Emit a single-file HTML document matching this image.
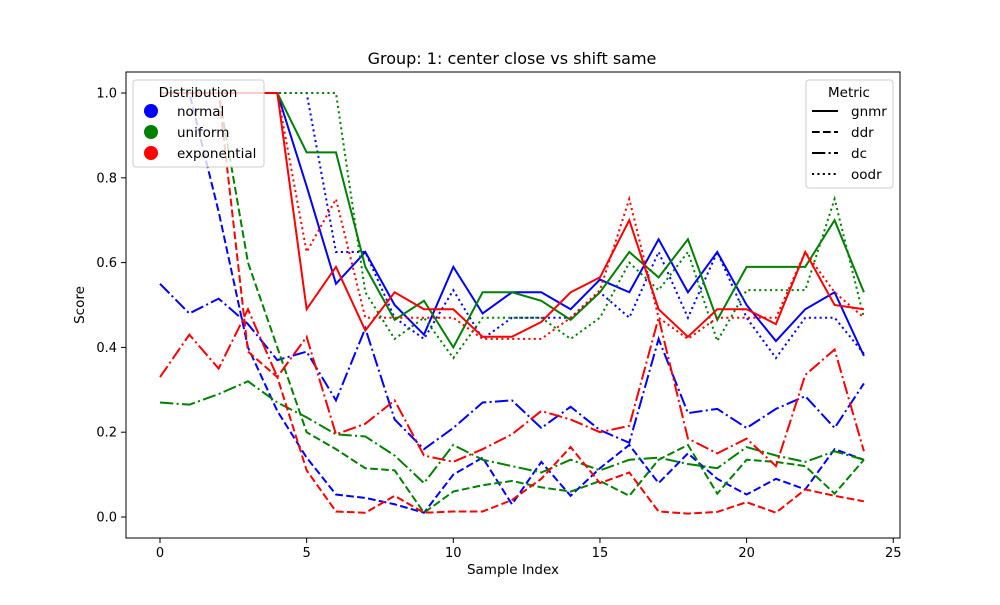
<!DOCTYPE html>
<html><head><meta charset="utf-8"><style>
body{margin:0;background:#fff;font-family:"Liberation Sans","DejaVu Sans",sans-serif}
svg text{font-family:"DejaVu Sans","Liberation Sans",sans-serif;fill:#000}
</style></head><body>
<svg id="chart" width="1000" height="600" viewBox="0 0 1000 600" xmlns="http://www.w3.org/2000/svg">
<rect width="1000" height="600" fill="#fff"/>
<text x="512" y="64" font-size="16" text-anchor="middle">Group: 1: center close vs shift same</text>
<g id="series"></g>
<rect x="126" y="72" width="774" height="466" fill="none" stroke="#000" stroke-width="1"/>
<g id="axes"></g>
<text x="513" y="574" font-size="13.5" text-anchor="middle">Sample Index</text>
<text transform="translate(84,305) rotate(-90)" font-size="13.5" text-anchor="middle">Score</text>
<g>
<rect x="133" y="80" width="131" height="87" rx="3" fill="#fff" fill-opacity="0.8" stroke="#ccc"/>
<text x="198" y="97" font-size="13.5" text-anchor="middle">Distribution</text>
<circle cx="151" cy="111" r="7" fill="#0000ff"/>
<text x="177" y="116" font-size="13.5">normal</text>
<circle cx="151" cy="132" r="7" fill="#008000"/>
<text x="177" y="137" font-size="13.5">uniform</text>
<circle cx="151" cy="153" r="7" fill="#ff0000"/>
<text x="177" y="158" font-size="13.5">exponential</text>
</g>
<g>
<rect x="806" y="80" width="87" height="108" rx="3" fill="#fff" fill-opacity="0.8" stroke="#ccc"/>
<text x="849" y="97" font-size="13.5" text-anchor="middle">Metric</text>
<line x1="812" y1="111" x2="838" y2="111" stroke="#000" stroke-width="2.1"/>
<text x="851" y="116" font-size="13.5">gnmr</text>
<line x1="812" y1="132" x2="838" y2="132" stroke="#000" stroke-width="2.1" stroke-dasharray="7.7,3.3"/>
<text x="851" y="137" font-size="13.5">ddr</text>
<line x1="812" y1="153" x2="838" y2="153" stroke="#000" stroke-width="2.1" stroke-dasharray="13.3,3.3,2.1,3.3"/>
<text x="851" y="158" font-size="13.5">dc</text>
<line x1="812" y1="174" x2="838" y2="174" stroke="#000" stroke-width="2.1" stroke-dasharray="2.1,3.3"/>
<text x="851" y="179" font-size="13.5">oodr</text>
</g>
</svg>
<script>
const xTicks=[0,5,10,15,20,25];
const yTicks=[0.0,0.2,0.4,0.6,0.8,1.0];
const yTickLabels=["0.0","0.2","0.4","0.6","0.8","1.0"];
const normalGnmr=[1,1,1,1,1,0.78,0.55,0.625,0.5,0.43,0.59,0.48,0.53,0.53,0.49,0.56,0.53,0.655,0.53,0.625,0.5,0.415,0.49,0.53,0.38];
const normalDdr=[1,1,0.72,0.4,0.25,0.14,0.053,0.045,0.03,0.01,0.1,0.14,0.03,0.13,0.05,0.115,0.17,0.08,0.15,0.09,0.053,0.09,0.065,0.16,0.135];
const normalDc=[0.55,0.48,0.515,0.455,0.37,0.39,0.275,0.445,0.23,0.16,0.21,0.27,0.275,0.21,0.26,0.205,0.175,0.42,0.245,0.255,0.21,0.255,0.285,0.21,0.315];
const normalOodr=[1,1,1,1,1,1,0.625,0.625,0.47,0.42,0.535,0.42,0.47,0.47,0.47,0.53,0.47,0.625,0.47,0.625,0.47,0.375,0.47,0.47,0.385];
const uniformGnmr=[1,1,1,1,1,0.86,0.86,0.59,0.465,0.51,0.4,0.53,0.53,0.51,0.465,0.53,0.625,0.565,0.655,0.465,0.59,0.59,0.59,0.7,0.53];
const uniformDdr=[1,1,1,0.6,0.4,0.2,0.16,0.115,0.11,0.01,0.06,0.075,0.085,0.07,0.06,0.085,0.05,0.135,0.17,0.055,0.135,0.13,0.12,0.055,0.135];
const uniformDc=[0.27,0.265,0.29,0.32,0.27,0.235,0.195,0.19,0.145,0.08,0.17,0.135,0.12,0.105,0.135,0.11,0.135,0.14,0.125,0.115,0.165,0.145,0.13,0.155,0.135];
const uniformOodr=[1,1,1,1,1,1,1,0.53,0.42,0.47,0.375,0.47,0.47,0.47,0.42,0.47,0.6,0.535,0.625,0.415,0.535,0.535,0.535,0.75,0.47];
const expGnmr=[1,1,1,1,1,0.49,0.59,0.44,0.53,0.49,0.49,0.425,0.425,0.46,0.53,0.565,0.7,0.49,0.425,0.49,0.49,0.455,0.625,0.5,0.49];
const expDdr=[1,1,1,0.39,0.33,0.11,0.013,0.01,0.05,0.01,0.013,0.013,0.04,0.09,0.165,0.08,0.105,0.013,0.008,0.012,0.035,0.01,0.065,0.05,0.037];
const expDc=[0.33,0.43,0.35,0.49,0.33,0.425,0.195,0.22,0.275,0.145,0.13,0.16,0.195,0.25,0.23,0.2,0.215,0.47,0.185,0.15,0.185,0.12,0.335,0.395,0.155];
const expOodr=[1,1,1,1,1,0.625,0.75,0.47,0.47,0.47,0.47,0.42,0.42,0.42,0.47,0.535,0.75,0.47,0.42,0.47,0.47,0.47,0.625,0.53,0.47];

const NS="http://www.w3.org/2000/svg";
function xs(v){return 160+v*29.33;}
function ys(v){return 517-v*424;}
const dashes={gnmr:"",ddr:"7.7,3.3",dc:"13.3,3.3,2.1,3.3",oodr:"2.1,3.3"};
const seriesList=[
["normal","gnmr",normalGnmr,"#0000ff"],["normal","ddr",normalDdr,"#0000ff"],["normal","dc",normalDc,"#0000ff"],["normal","oodr",normalOodr,"#0000ff"],
["uniform","gnmr",uniformGnmr,"#008000"],["uniform","ddr",uniformDdr,"#008000"],["uniform","dc",uniformDc,"#008000"],["uniform","oodr",uniformOodr,"#008000"],
["exponential","gnmr",expGnmr,"#ff0000"],["exponential","ddr",expDdr,"#ff0000"],["exponential","dc",expDc,"#ff0000"],["exponential","oodr",expOodr,"#ff0000"]];
const g=document.getElementById("series");
seriesList.forEach(s=>{
  const p=document.createElementNS(NS,"polyline");
  p.setAttribute("points",s[2].map((v,i)=>xs(i)+","+ys(v)).join(" "));
  p.setAttribute("fill","none");p.setAttribute("stroke",s[3]);p.setAttribute("stroke-width","2");
  if(dashes[s[1]])p.setAttribute("stroke-dasharray",dashes[s[1]]);
  
  
  g.appendChild(p);
});
const a=document.getElementById("axes");
xTicks.forEach(t=>{
  const l=document.createElementNS(NS,"line");
  l.setAttribute("x1",xs(t));l.setAttribute("x2",xs(t));l.setAttribute("y1",538);l.setAttribute("y2",543);l.setAttribute("stroke","#000");
  
  
  a.appendChild(l);
  const tx=document.createElementNS(NS,"text");
  tx.setAttribute("x",xs(t));tx.setAttribute("y",557);tx.setAttribute("font-size","13");tx.setAttribute("text-anchor","middle");
  tx.textContent=t;
  
  
  a.appendChild(tx);
});
yTicks.forEach((t,i)=>{
  const l=document.createElementNS(NS,"line");
  l.setAttribute("x1",121);l.setAttribute("x2",126);l.setAttribute("y1",ys(t));l.setAttribute("y2",ys(t));l.setAttribute("stroke","#000");
  
  
  a.appendChild(l);
  const tx=document.createElementNS(NS,"text");
  tx.setAttribute("x",117);tx.setAttribute("y",ys(t)+4.5);tx.setAttribute("font-size","13");tx.setAttribute("text-anchor","end");
  tx.textContent=yTickLabels[i];
  
  
  a.appendChild(tx);
});
</script>
</body></html>
